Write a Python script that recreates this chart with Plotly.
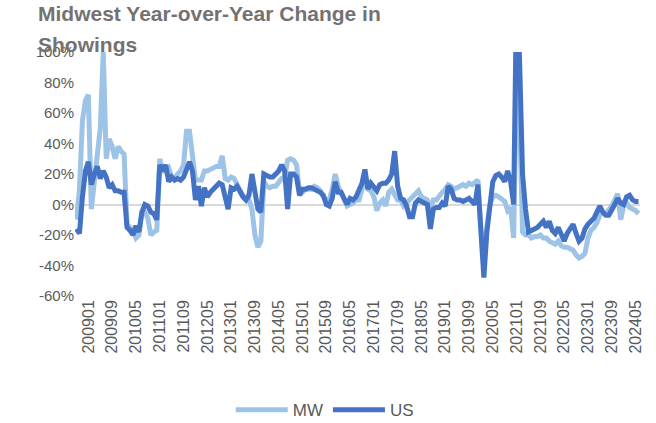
import plotly.graph_objects as go

months = [f"{y}{m:02d}" for y in range(2008, 2025) for m in range(1, 13)][8:198]

mw = [-10, 10, 55, 68, 72, -3, 15, 30, 50, 100, 30, 43, 38, 30, 38, 35, 33,
      -13, -15, -17, -22, -20, -5, -5, -9, -20, -18, -17, 30, 22, 22, 24, 18,
      17, 20, 22, 26, 48, 48, 30, 16, 16, 16, 22, 22, 23, 24, 25, 25, 32,
      17, 16, 18, 17, 13, 10, 6, 5, 3, -3, -20, -28, -24, 15, 12, 11,
      12, 12, 15, 17, 18, 29, 30, 29, 26, 8, 8, 10, 10, 10, 12, 11, 9,
      5, 3, 3, 10, 20, 12, 8, 3, -1, 0, 1, 3, 3, 10, 16, 10,
      9, 5, -4, 1, 3, -1, 8, 10, 6, 3, 3, -1, 1, 3, 4, 6,
      9, 5, 4, 3, -3, 3, 3, 6, 8, 10, 13, 12, 10, 11, 12, 13, 12,
      14, 13, 15, 16, -15, -40, -15, 0, 5, 6, 5, 3, 2, -4, -2, -22,
      80, 60, -18, -20, -20, -22, -21, -21, -20, -22, -22, -24, -25, -26, -24, -27, -28,
      -28, -29, -30, -33, -35, -34, -32, -22, -17, -15, -12, -7, -5, -6, -4, -1,
      3, 7, -10, -1, 1, -2, -3, -4, -6]

us = [-16, -19, 5, 22, 28, 13, 20, 25, 17, 22, 18, 11, 13, 9, 9, 8, 8,
      -15, -17, -20, -14, -18, -5, 0, -1, -5, -6, -10, 26, 22, 26, 15, 18,
      16, 17, 16, 18, 24, 28, 22, 3, 12, -1, 11, 5, 8, 10, 12, 14, 13,
      3, -3, 11, 10, 12, 8, 5, 3, 6, 20, 10, -3, -5, 20, 19, 18,
      18, 20, 22, 26, 22, -3, 20, 20, 18, 6, 10, 10, 11, 11, 10, 9, 8,
      6, 0, -1, 4, 15, 8, 8, 4, 0, 4, 3, 5, 9, 14, 23, 10,
      14, 12, 9, 13, 14, 14, 16, 20, 35, 12, 4, 3, -1, -8, -8, 1,
      3, 2, 1, 0, -16, -3, -2, -2, 1, -1, 12, 10, 4, 3, 3, 2, 3,
      4, 2, 0, 13, -17, -48, -18, 0, 15, 19, 20, 18, 15, 22, 15, 0,
      140, 95, 20, -3, -18, -17, -16, -15, -13, -11, -15, -11, -17, -19, -15, -20, -24,
      -19, -16, -13, -19, -24, -22, -16, -13, -11, -9, -5, -1, -5, -7, -7, -4,
      0, 4, 1, 0, 5, 6, 3, 2, 2]

tick_labels = months[4::8]
y_ticks = [100, 80, 60, 40, 20, 0, -20, -40, -60]
title_lines = ["Midwest Year-over-Year Change in", "Showings"]

fig = go.Figure()
fig.add_trace(go.Scatter(x=months, y=mw, mode="lines", name="MW",
                         line=dict(color="#9DC3E6", width=5)))
fig.add_trace(go.Scatter(x=months, y=us, mode="lines", name="US",
                         line=dict(color="#4472C4", width=5)))

fig.update_layout(
    width=656, height=423,
    paper_bgcolor="white", plot_bgcolor="white",
    margin=dict(l=75, r=16, t=52, b=127, autoexpand=False),
    font=dict(family="Liberation Sans, Arial, sans-serif", color="#595959"),
    showlegend=True,
    legend=dict(orientation="h", x=0.442, xanchor="center", y=-0.394, yanchor="top",
                itemwidth=52, font=dict(size=17, color="#595959")),
    xaxis=dict(type="category", categoryorder="array", categoryarray=months,
               tickvals=tick_labels, ticktext=tick_labels,
               tickangle=-90, tickfont=dict(size=16), range=[-0.5, len(months) - 0.5],
               showgrid=False, showline=False, ticks="", zeroline=False,
               automargin=False),
    yaxis=dict(range=[-60, 100], tickvals=y_ticks,
               ticktext=[f"{v}%" for v in y_ticks], tickfont=dict(size=15),
               showgrid=False, zeroline=True, zerolinecolor="#D9D9D9",
               zerolinewidth=1.5, showline=False, ticks="", automargin=False),
)

title_y = [1.156, 1.029]
for txt, yy in zip(title_lines, title_y):
    fig.add_annotation(text=f"<b>{txt}</b>", xref="paper", yref="paper",
                       x=-0.069, y=yy, xanchor="left", yanchor="middle",
                       showarrow=False,
                       font=dict(size=21, color="#767171",
                                 family="Liberation Sans, Arial, sans-serif"))

fig.write_html("out.html", config={"displayModeBar": False},
               post_script="document.body.style.margin='0';")
